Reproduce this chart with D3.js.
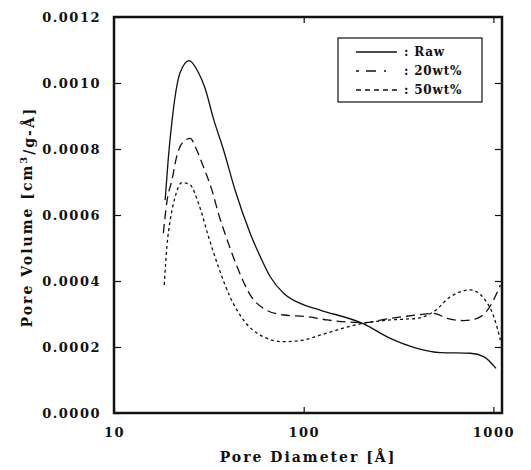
<!DOCTYPE html>
<html>
<head>
<meta charset="utf-8">
<script src="https://cdn.jsdelivr.net/npm/d3@7"></script>
<style>
  body { margin: 0; background: #fff; }
  text { font-family: "DejaVu Serif", "Liberation Serif", serif; font-weight: bold; fill: #111; }
</style>
</head>
<body>
<svg id="drawing_region"></svg>
<script>
// pore diameter (A) and pore volume (cm3/g-A)
const rawX = [18.6, 19.3, 20.2, 22.3, 24.9, 27.9, 30.2, 33.4, 37.8, 43.5, 52.2, 59.0, 66.6, 78.3, 95.8, 122, 207, 286, 396, 525, 756, 889, 1032];
const rawY = [0.000645, 0.000767, 0.000883, 0.001031, 0.001068, 0.001031, 0.000984, 0.000893, 0.000797, 0.000675, 0.000545, 0.000474, 0.000413, 0.000363, 0.000332, 0.000312, 0.000270, 0.000226, 0.000196, 0.000183, 0.000181, 0.000171, 0.000135];

const wt20X = [18.2, 19.0, 20.2, 21.4, 22.8, 25.2, 27.3, 29.6, 32.8, 35.5, 40.1, 45.3, 52.2, 61.4, 78.3, 104, 133, 207, 286, 396, 484, 570, 697, 820, 945, 1089];
const wt20Y = [0.000545, 0.000640, 0.000706, 0.000777, 0.000817, 0.000832, 0.000797, 0.000746, 0.000676, 0.000605, 0.000514, 0.000433, 0.000358, 0.000317, 0.000297, 0.000292, 0.000282, 0.000274, 0.000287, 0.000297, 0.000302, 0.000287, 0.000280, 0.000287, 0.000317, 0.000388];

const wt50X = [18.4, 19.0, 19.8, 21.0, 22.8, 25.2, 27.9, 31.5, 35.5, 40.9, 48.1, 59.0, 78.3, 99.8, 122, 207, 286, 396, 484, 593, 756, 889, 1004, 1089];
const wt50Y = [0.000388, 0.000504, 0.000585, 0.000655, 0.000698, 0.000691, 0.000635, 0.000534, 0.000443, 0.000352, 0.000282, 0.000236, 0.000216, 0.000221, 0.000236, 0.000272, 0.000282, 0.000287, 0.000307, 0.000352, 0.000373, 0.000348, 0.000292, 0.000221];

const seriesNames = [": Raw", ": 20wt%", ": 50wt%"];
const xTicks = [10, 100, 1000];
const yTicks = [0, 0.0002, 0.0004, 0.0006, 0.0008, 0.0010, 0.0012];

const series = [
  { name: seriesNames[0], x: rawX, y: rawY, dash: null, legendDash: null },
  { name: seriesNames[1], x: wt20X, y: wt20Y, dash: "9,5", legendDash: "3,7,10,8,2,20" },
  { name: seriesNames[2], x: wt50X, y: wt50Y, dash: "3,3", legendDash: "5,4" }
];

const width = 531, height = 470;
const margin = {top: 17, right: 29, bottom: 57, left: 114};
const innerW = width - margin.left - margin.right;
const innerH = height - margin.top - margin.bottom;

const svg = d3.select("#drawing_region")
  .attr("width", width)
  .attr("height", height);

const chart = svg.append("g")
  .attr("transform", `translate(${margin.left}, ${margin.top})`);

const xscale = d3.scaleLog().domain([10, 1110]).range([0, innerW]);
const yscale = d3.scaleLinear().domain([0, 0.0012]).range([innerH, 0]);

// axes, ticks pointing inward
const fmt = d3.format(".4f");
chart.append("g")
  .attr("transform", `translate(0, ${innerH})`)
  .call(d3.axisBottom(xscale).tickValues(xTicks).tickSize(-6).tickPadding(15).tickFormat(d3.format("d")).tickSizeOuter(0))
  .call(g => g.select(".domain").remove())
  .call(g => g.selectAll("text").attr("font-size", "13px").style("letter-spacing", "1.5px"));

chart.append("g")
  .call(d3.axisTop(xscale).tickValues(xTicks.slice(1)).tickSize(-6).tickFormat("").tickSizeOuter(0))
  .call(g => g.select(".domain").remove());

chart.append("g")
  .call(d3.axisLeft(yscale).tickValues(yTicks).tickSize(-7).tickPadding(13).tickFormat(fmt).tickSizeOuter(0))
  .call(g => g.select(".domain").remove())
  .call(g => g.selectAll("text").attr("font-size", "13px").style("letter-spacing", "1.5px"));

chart.append("g")
  .attr("transform", `translate(${innerW}, 0)`)
  .call(d3.axisRight(yscale).tickValues(yTicks.slice(1, -1)).tickSize(-7).tickFormat("").tickSizeOuter(0))
  .call(g => g.select(".domain").remove());

chart.selectAll(".tick line").attr("stroke", "#111").attr("stroke-width", 1.2);

// frame
chart.append("rect")
  .attr("width", innerW)
  .attr("height", innerH)
  .attr("fill", "none")
  .attr("stroke", "#111")
  .attr("stroke-width", 2.5);

// curves
const line = d3.line()
  .x(d => xscale(d[0]))
  .y(d => yscale(d[1]))
  .curve(d3.curveMonotoneX);

chart.selectAll("path.series")
  .data(series)
  .enter()
  .append("path")
  .attr("class", "series")
  .attr("d", s => line(s.x.map((v, i) => [v, s.y[i]])))
  .attr("fill", "none")
  .attr("stroke", "#111")
  .attr("stroke-width", 1.3)
  .attr("stroke-dasharray", s => s.dash);

// legend
const legend = svg.append("g").attr("transform", "translate(338, 38)");
legend.append("rect")
  .attr("width", 144)
  .attr("height", 64)
  .attr("fill", "#fff")
  .attr("stroke", "#111")
  .attr("stroke-width", 1.2);

const rows = legend.selectAll("g.row")
  .data(series)
  .enter()
  .append("g")
  .attr("class", "row")
  .attr("transform", (d, i) => `translate(0, ${14 + i * 19})`);

rows.append("line")
  .attr("x1", 18).attr("x2", 59)
  .attr("stroke", "#111")
  .attr("stroke-width", 1.3)
  .attr("stroke-dasharray", d => d.legendDash);

rows.append("text")
  .attr("x", 66)
  .attr("dy", "0.35em")
  .attr("font-size", "12px")
  .style("letter-spacing", "0.8px")
  .text(d => d.name);

// axis titles
svg.append("text")
  .attr("x", 308)
  .attr("y", 462)
  .attr("text-anchor", "middle")
  .attr("font-size", "14px")
  .style("letter-spacing", "2px")
  .text("Pore Diameter [Å]");

const ylab = svg.append("text")
  .attr("transform", "translate(32, 217) rotate(-90)")
  .attr("text-anchor", "middle")
  .attr("font-size", "14px")
  .style("letter-spacing", "2px");
ylab.append("tspan").text("Pore Volume [cm");
ylab.append("tspan").attr("dy", "-0.5em").attr("font-size", "10px").text("3");
ylab.append("tspan").attr("dy", "0.5em").text("/g-Å]");
</script>
</body>
</html>
